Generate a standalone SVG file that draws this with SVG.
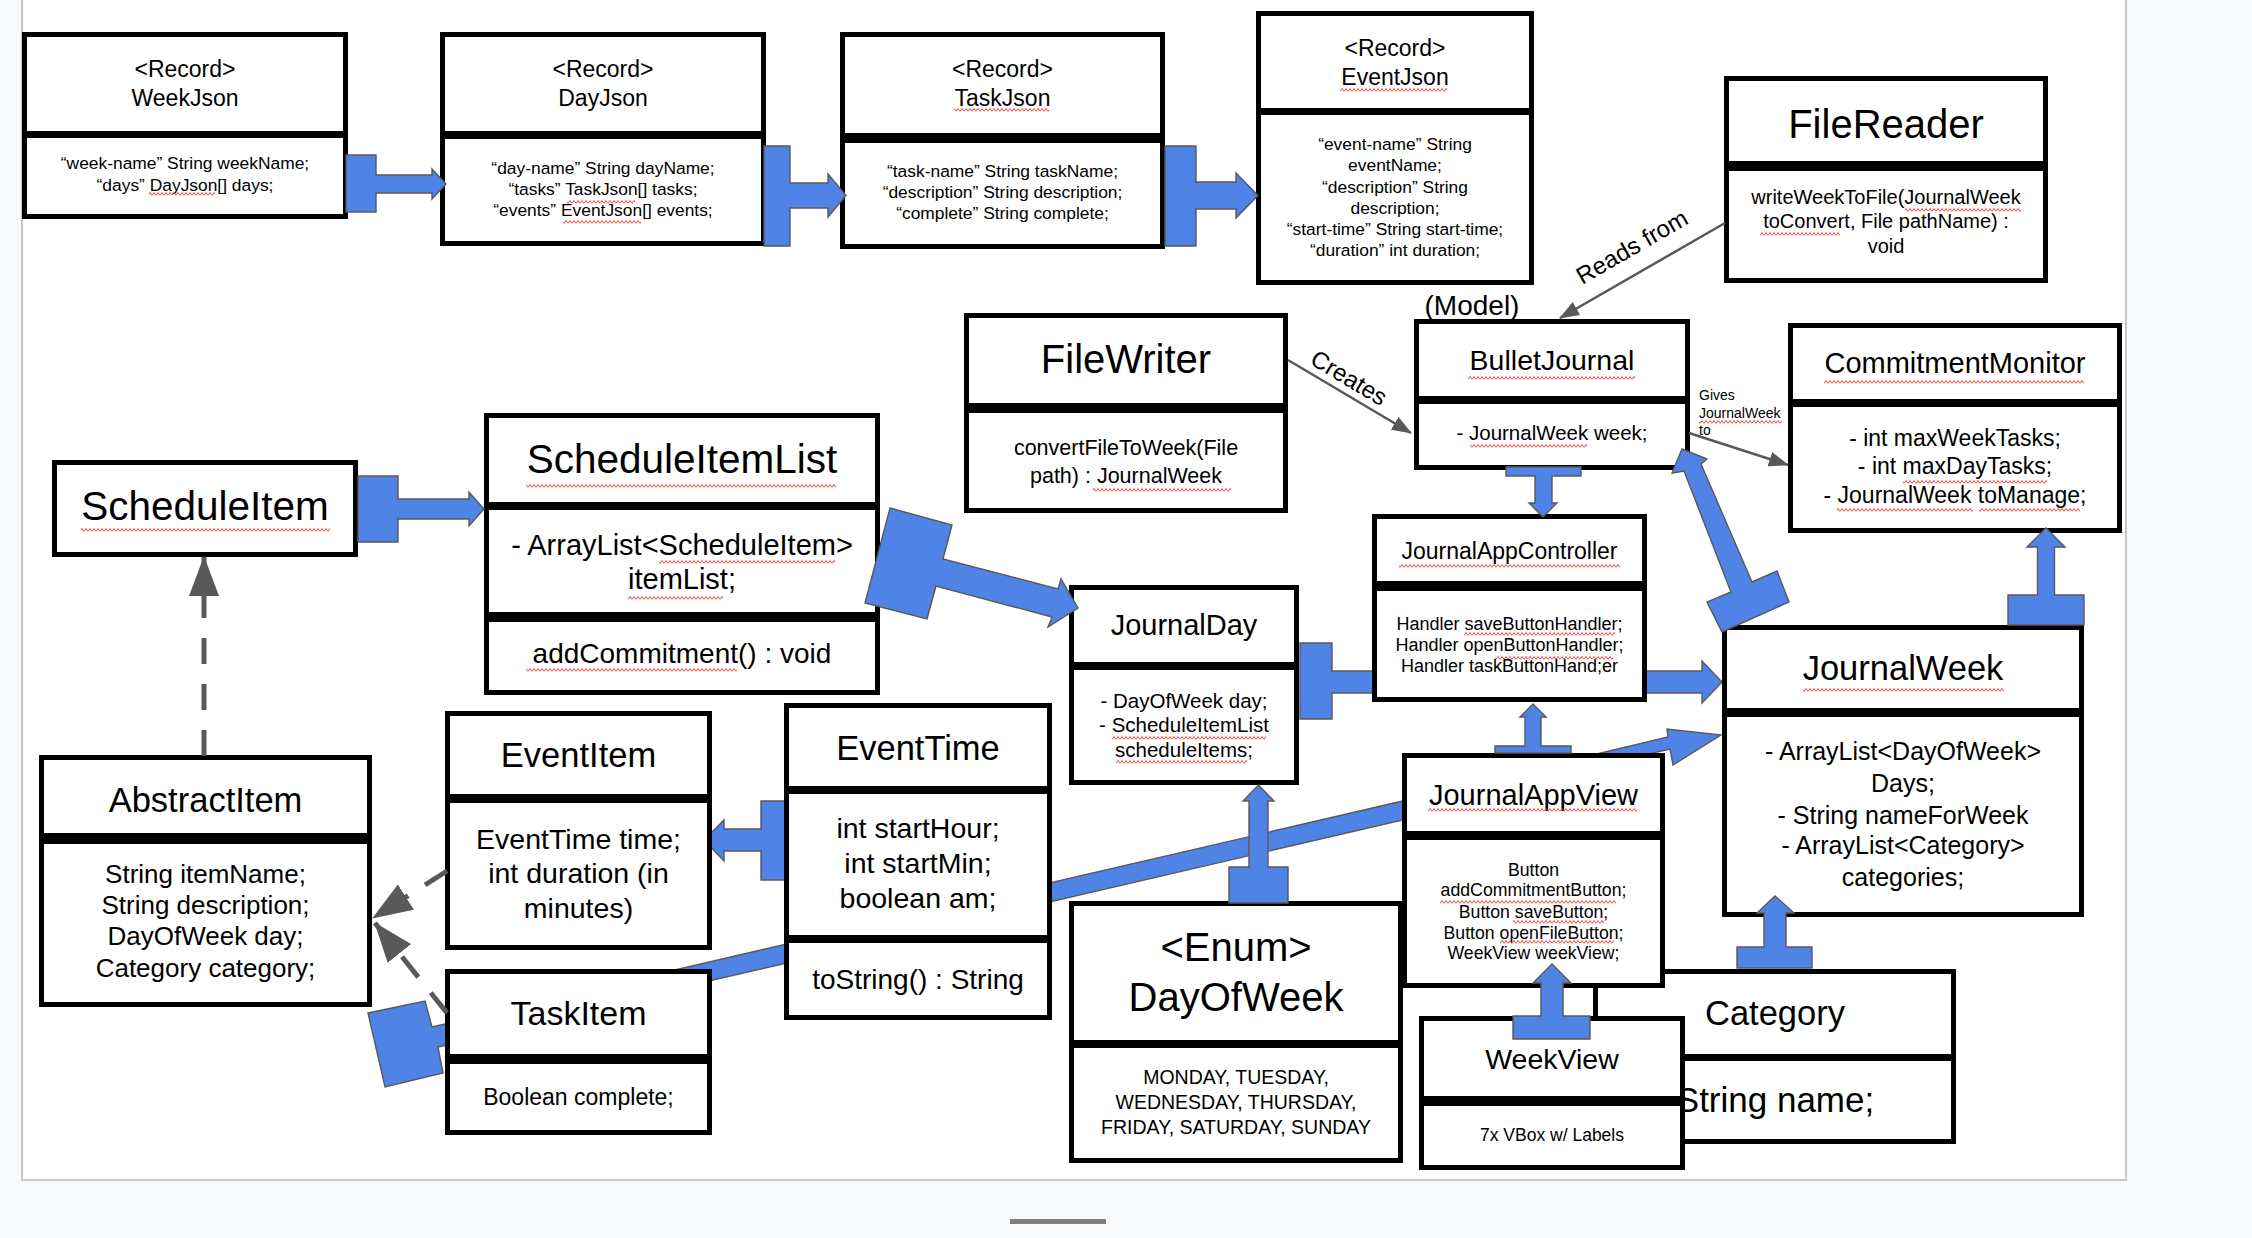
<svg xmlns="http://www.w3.org/2000/svg" width="2252" height="1238" viewBox="0 0 2252 1238">
<defs>
<style>
.bx{fill:#fff;stroke:#000;stroke-width:5}
.dv{fill:#000}
.t{font-family:"Liberation Sans",Arial,Helvetica,sans-serif;fill:#000;text-anchor:middle}
.tl{font-family:"Liberation Sans",Arial,Helvetica,sans-serif;fill:#000}
.ba{fill:#4f83e6;stroke:#595959;stroke-width:1.4}
.dash{fill:none;stroke:#595959;stroke-width:5;stroke-dasharray:26 20;marker-end:url(#mDash)}
.gl{fill:none;stroke:#595959;stroke-width:2.5;marker-end:url(#mLine)}
.sq{fill:url(#sq)}
</style>
<pattern id="sq" width="4" height="4" patternUnits="userSpaceOnUse">
<path d="M0,3.5 L2,0.5 L4,3.5" fill="none" stroke="#e3302c" stroke-width="0.9"/>
</pattern>
<marker id="mDash" markerUnits="userSpaceOnUse" markerWidth="40" markerHeight="30" refX="39" refY="15" orient="auto" viewBox="0 0 40 30">
<path d="M0,0 L40,15 L0,30 z" fill="#595959"/>
</marker>
<marker id="mLine" markerUnits="userSpaceOnUse" markerWidth="20" markerHeight="15" refX="19" refY="7.5" orient="auto" viewBox="0 0 20 15">
<path d="M0,0 L20,7.5 L0,15 z" fill="#595959"/>
</marker>
</defs>

<rect x="0" y="0" width="2252" height="1238" fill="#f8f9fa"/>
<rect x="22" y="-10" width="2104" height="1190" fill="#fff" stroke="#c8c8c8" stroke-width="2"/>
<rect x="1010" y="1219" width="96" height="5" fill="#7f7f7f"/>

<g id="connectors-back">
<polygon class="ba" points="650,975.7 1405,800.5 1405,819.5 650,994.7"/>
<polygon class="ba" points="1300,643 1332,643 1332,671 1702,671 1702,661 1722,682 1702,703 1702,693 1332,693 1332,719 1300,719"/>
<polygon class="ba" points="1580,758 1668,737 1667,729 1721,735 1673,765 1670,749 1580,770"/>
<polygon class="ba" points="787,801 761,801 761,829 724,829 724,820 704,840 724,861 724,851 761,851 761,880 787,880"/>
<polygon class="ba" points="368,1013 425,1001 432,1027 471,1018 476,1039 438,1047 443,1073 385,1087"/>
</g>

<g id="WeekJson">
<rect class="bx" x="24.5" y="34.5" width="321" height="182"/>
<rect class="dv" x="22" y="131" width="326" height="7"/>
<text class="t" x="185" y="77" font-size="23">&lt;Record&gt;</text>
<text class="t" x="185" y="106" font-size="23">WeekJson</text>
<text class="t" x="185" y="169" font-size="17.4">“week-name” String weekName;</text>
<text class="t" x="185" y="191" font-size="17.4">“days” DayJson[] days;</text>
<rect class="sq" x="149" y="192" width="66" height="4"/>
</g>

<g id="DayJson">
<rect class="bx" x="442.5" y="34.5" width="321" height="209"/>
<rect class="dv" x="440" y="131" width="326" height="8"/>
<text class="t" x="603" y="77" font-size="23">&lt;Record&gt;</text>
<text class="t" x="603" y="106" font-size="23">DayJson</text>
<text class="t" x="603" y="174" font-size="17.4">“day-name” String dayName;</text>
<text class="t" x="603" y="195" font-size="17.4">“tasks” TaskJson[] tasks;</text>
<text class="t" x="603" y="216" font-size="17.4">“events” EventJson[] events;</text>
<rect class="sq" x="567" y="200" width="68" height="4"/>
<rect class="sq" x="563" y="220" width="78" height="4"/>
</g>

<g id="TaskJson">
<rect class="bx" x="842.5" y="34.5" width="320" height="212"/>
<rect class="dv" x="840" y="133" width="325" height="10"/>
<text class="t" x="1002.5" y="77" font-size="23">&lt;Record&gt;</text>
<text class="t" x="1002.5" y="106" font-size="23">TaskJson</text>
<rect class="sq" x="954" y="108" width="95" height="4"/>
<text class="t" x="1002.5" y="177" font-size="17.4">“task-name” String taskName;</text>
<text class="t" x="1002.5" y="198" font-size="17.4">“description” String description;</text>
<text class="t" x="1002.5" y="219" font-size="17.4">“complete” String complete;</text>
</g>

<g id="EventJson">
<rect class="bx" x="1258.5" y="13.5" width="273" height="269"/>
<rect class="dv" x="1256" y="108" width="278" height="7"/>
<text class="t" x="1395" y="56" font-size="23">&lt;Record&gt;</text>
<text class="t" x="1395" y="85" font-size="23">EventJson</text>
<rect class="sq" x="1340" y="88" width="107" height="4"/>
<text class="t" x="1395" y="150" font-size="17.4">“event-name” String</text>
<text class="t" x="1395" y="171" font-size="17.4">eventName;</text>
<text class="t" x="1395" y="193" font-size="17.4">“description” String</text>
<text class="t" x="1395" y="214" font-size="17.4">description;</text>
<text class="t" x="1395" y="235" font-size="17.4">“start-time” String start-time;</text>
<text class="t" x="1395" y="256" font-size="17.4">“duration” int duration;</text>
</g>

<g id="FileReader">
<rect class="bx" x="1726.5" y="78.5" width="319" height="202"/>
<rect class="dv" x="1724" y="161" width="324" height="10"/>
<text class="t" x="1886" y="138" font-size="40">FileReader</text>
<text class="t" x="1886" y="204" font-size="20">writeWeekToFile(JournalWeek</text>
<text class="t" x="1886" y="228" font-size="20">toConvert, File pathName) :</text>
<text class="t" x="1886" y="253" font-size="20">void</text>
<rect class="sq" x="1905" y="208" width="116" height="4"/>
<rect class="sq" x="1760" y="232" width="80" height="4"/>
</g>

<g id="FileWriter">
<rect class="bx" x="966.5" y="315.5" width="319" height="195"/>
<rect class="dv" x="964" y="403" width="324" height="10"/>
<text class="t" x="1126" y="373" font-size="40">FileWriter</text>
<text class="t" x="1126" y="455" font-size="21.5">convertFileToWeek(File</text>
<text class="t" x="1126" y="483" font-size="21.5">path) : JournalWeek</text>
<rect class="sq" x="1093" y="488" width="138" height="4"/>
</g>

<g id="BulletJournal">
<rect class="bx" x="1416.5" y="321.5" width="271" height="146"/>
<rect class="dv" x="1414" y="396" width="276" height="8"/>
<text class="t" x="1472" y="315" font-size="28">(Model)</text>
<text class="t" x="1552" y="370" font-size="28.5">BulletJournal</text>
<rect class="sq" x="1468" y="376" width="167" height="4"/>
<text class="t" x="1552" y="440" font-size="20.5">- JournalWeek week;</text>
<rect class="sq" x="1470" y="444" width="117" height="4"/>
</g>

<g id="CommitmentMonitor">
<rect class="bx" x="1790.5" y="325.5" width="329" height="205"/>
<rect class="dv" x="1788" y="399" width="334" height="8"/>
<text class="t" x="1955" y="373" font-size="29">CommitmentMonitor</text>
<rect class="sq" x="1824" y="380" width="260" height="4"/>
<text class="t" x="1955" y="446" font-size="23">- int maxWeekTasks;</text>
<text class="t" x="1955" y="474" font-size="23">- int maxDayTasks;</text>
<text class="t" x="1955" y="503" font-size="23">- JournalWeek toManage;</text>
<rect class="sq" x="1903" y="480" width="144" height="4"/>
<rect class="sq" x="1837" y="508" width="136" height="4"/>
<rect class="sq" x="1979" y="508" width="101" height="4"/>
</g>

<g id="ScheduleItem">
<rect class="bx" x="54.5" y="462.5" width="301" height="92"/>
<text class="t" x="205" y="520" font-size="40.5">ScheduleItem</text>
<rect class="sq" x="81" y="528" width="249" height="4"/>
</g>

<g id="ScheduleItemList">
<rect class="bx" x="486.5" y="415.5" width="391" height="277"/>
<rect class="dv" x="484" y="502" width="396" height="8"/>
<rect class="dv" x="484" y="612" width="396" height="10"/>
<text class="t" x="682" y="473" font-size="40.5">ScheduleItemList</text>
<rect class="sq" x="526" y="484" width="310" height="4"/>
<text class="t" x="682" y="555" font-size="29">- ArrayList&lt;ScheduleItem&gt;</text>
<text class="t" x="682" y="589" font-size="29">itemList;</text>
<rect class="sq" x="659" y="560" width="176" height="4"/>
<rect class="sq" x="628" y="596" width="95" height="4"/>
<text class="t" x="682" y="663" font-size="28">addCommitment() : void</text>
<rect class="sq" x="526" y="668" width="211" height="4"/>
</g>

<g id="JournalDay">
<rect class="bx" x="1071.5" y="587.5" width="225" height="195"/>
<rect class="dv" x="1069" y="662" width="230" height="8"/>
<text class="t" x="1184" y="635" font-size="29">JournalDay</text>
<text class="t" x="1184" y="708" font-size="20.5">- DayOfWeek day;</text>
<text class="t" x="1184" y="732" font-size="20.5">- ScheduleItemList</text>
<text class="t" x="1184" y="757" font-size="20.5">scheduleItems;</text>
<rect class="sq" x="1112" y="736" width="154" height="4"/>
<rect class="sq" x="1116" y="760" width="131" height="4"/>
</g>

<g id="JournalAppController">
<rect class="bx" x="1374.5" y="516.5" width="270" height="183"/>
<rect class="dv" x="1372" y="581" width="275" height="10"/>
<text class="t" x="1509.5" y="559" font-size="23">JournalAppController</text>
<rect class="sq" x="1399" y="564" width="221" height="4"/>
<text class="t" x="1509.5" y="630" font-size="18">Handler saveButtonHandler;</text>
<text class="t" x="1509.5" y="651" font-size="18">Handler openButtonHandler;</text>
<text class="t" x="1509.5" y="672" font-size="18">Handler taskButtonHand;er</text>
<rect class="sq" x="1464" y="632" width="151" height="4"/>
<rect class="sq" x="1495" y="656" width="118" height="4"/>
</g>

<g id="JournalWeek">
<rect class="bx" x="1724.5" y="627.5" width="357" height="287"/>
<rect class="dv" x="1722" y="708" width="362" height="9"/>
<text class="t" x="1903" y="680" font-size="34.5">JournalWeek</text>
<rect class="sq" x="1803" y="688" width="201" height="4"/>
<text class="t" x="1903" y="760" font-size="25">- ArrayList&lt;DayOfWeek&gt;</text>
<text class="t" x="1903" y="792" font-size="25">Days;</text>
<text class="t" x="1903" y="824" font-size="25">- String nameForWeek</text>
<text class="t" x="1903" y="854" font-size="25">- ArrayList&lt;Category&gt;</text>
<text class="t" x="1903" y="886" font-size="25">categories;</text>
</g>

<g id="AbstractItem">
<rect class="bx" x="41.5" y="757.5" width="328" height="247"/>
<rect class="dv" x="39" y="833" width="333" height="11"/>
<text class="t" x="205.5" y="812" font-size="34.5">AbstractItem</text>
<text class="t" x="205.5" y="883" font-size="26">String itemName;</text>
<text class="t" x="205.5" y="914" font-size="26">String description;</text>
<text class="t" x="205.5" y="945" font-size="26">DayOfWeek day;</text>
<text class="t" x="205.5" y="977" font-size="26">Category category;</text>
</g>

<g id="EventItem">
<rect class="bx" x="447.5" y="713.5" width="262" height="234"/>
<rect class="dv" x="445" y="794" width="267" height="9"/>
<text class="t" x="578.5" y="767" font-size="34.5">EventItem</text>
<text class="t" x="578.5" y="849" font-size="28.5">EventTime time;</text>
<text class="t" x="578.5" y="883" font-size="28.5">int duration (in</text>
<text class="t" x="578.5" y="918" font-size="28.5">minutes)</text>
</g>

<g id="EventTime">
<rect class="bx" x="786.5" y="705.5" width="263" height="312"/>
<rect class="dv" x="784" y="786" width="268" height="8"/>
<rect class="dv" x="784" y="935" width="268" height="8"/>
<text class="t" x="918" y="760" font-size="34.5">EventTime</text>
<text class="t" x="918" y="838" font-size="28.5">int startHour;</text>
<text class="t" x="918" y="873" font-size="28.5">int startMin;</text>
<text class="t" x="918" y="908" font-size="28.5">boolean am;</text>
<text class="t" x="918" y="989" font-size="28">toString() : String</text>
</g>

<g id="TaskItem">
<rect class="bx" x="447.5" y="971.5" width="262" height="161"/>
<rect class="dv" x="445" y="1054" width="267" height="10"/>
<text class="t" x="578.5" y="1025" font-size="34">TaskItem</text>
<text class="t" x="578.5" y="1105" font-size="23">Boolean complete;</text>
</g>

<g id="DayOfWeek">
<rect class="bx" x="1071.5" y="903.5" width="329" height="257"/>
<rect class="dv" x="1069" y="1040" width="334" height="8"/>
<text class="t" x="1236" y="961" font-size="40">&lt;Enum&gt;</text>
<text class="t" x="1236" y="1011" font-size="40">DayOfWeek</text>
<text class="t" x="1236" y="1084" font-size="19.5">MONDAY, TUESDAY,</text>
<text class="t" x="1236" y="1109" font-size="19.5">WEDNESDAY, THURSDAY,</text>
<text class="t" x="1236" y="1134" font-size="19.5">FRIDAY, SATURDAY, SUNDAY</text>
</g>

<g id="Category">
<rect class="bx" x="1595.5" y="971.5" width="358" height="170"/>
<rect class="dv" x="1593" y="1054" width="363" height="7"/>
<text class="t" x="1775" y="1025" font-size="34.5">Category</text>
<text class="t" x="1775" y="1112" font-size="35">String name;</text>
</g>

<g id="JournalAppView">
<rect class="bx" x="1404.5" y="755.5" width="258" height="230"/>
<rect class="dv" x="1402" y="831" width="263" height="9"/>
<text class="t" x="1533.5" y="805" font-size="29">JournalAppView</text>
<rect class="sq" x="1428" y="808" width="209" height="4"/>
<text class="t" x="1533.5" y="876" font-size="17.7">Button</text>
<text class="t" x="1533.5" y="896" font-size="17.7">addCommitmentButton;</text>
<text class="t" x="1533.5" y="918" font-size="17.7">Button saveButton;</text>
<text class="t" x="1533.5" y="939" font-size="17.7">Button openFileButton;</text>
<text class="t" x="1533.5" y="959" font-size="17.7">WeekView weekView;</text>
<rect class="sq" x="1440" y="900" width="176" height="4"/>
<rect class="sq" x="1513" y="920" width="91" height="4"/>
<rect class="sq" x="1500" y="940" width="114" height="4"/>
</g>

<g id="WeekView">
<rect class="bx" x="1421.5" y="1018.5" width="261" height="149"/>
<rect class="dv" x="1419" y="1096" width="266" height="10"/>
<text class="t" x="1552" y="1069" font-size="28.5">WeekView</text>
<text class="t" x="1552" y="1141" font-size="17.5">7x VBox w/ Labels</text>
</g>

<g id="connectors">
<polygon class="ba" points="346,155 376,155 376,175 432,175 432,169 446,184 432,199 432,193 376,193 376,212 346,212"/>
<polygon class="ba" points="764,146 790,146 790,183 828,183 828,174 846,195.5 828,217 828,208 790,208 790,246 764,246"/>
<polygon class="ba" points="1165,146 1196,146 1196,182 1236,182 1236,173 1258,195.5 1236,218 1236,209 1196,209 1196,246 1165,246"/>
<polygon class="ba" points="358,476 398,476 398,499 469,499 469,492 484,509 469,526 469,519 398,519 398,542 358,542"/>
<polygon class="ba" points="890,508 952,525 943,559 1058,589 1061,579 1078,608 1048,627 1052,617 936,586 927,619 865,603"/>
<polygon class="ba" points="1506,467 1581,467 1581,476 1552,476 1552,503 1557,503 1543,517 1529,503 1535,503 1535,476 1506,476"/>
<polygon class="ba" points="1682,449 1707,459 1701,464 1752,582 1777,571 1789,602 1722,632 1707,602 1731,592 1684,471 1672,473"/>
<polygon class="ba" points="2008,625 2008,595 2037.5,595 2037.5,547 2027,547 2046,528 2065,547 2054.5,547 2054.5,595 2084,595 2084,625"/>
<polygon class="ba" points="1495,753 1495,746 1525,746 1525,717 1520,717 1533,704 1546,717 1541,717 1541,746 1571,746 1571,753"/>
<polygon class="ba" points="1229,903 1229,867 1249,867 1249,801 1243,801 1258.5,785 1274,801 1268,801 1268,867 1288,867 1288,903"/>
<polygon class="ba" points="1737,968 1737,947 1764,947 1764,913 1757,913 1775,896 1794,913 1786,913 1786,947 1812,947 1812,968"/>
<polygon class="ba" points="1513,1039 1513,1016 1541,1016 1541,983 1533,983 1552,964 1571,983 1563,983 1563,1016 1590,1016 1590,1039"/>
<path class="dash" d="M204,756 L204,557"/>
<path class="dash" d="M447,871 L373,918"/>
<path class="dash" d="M447,1013 L375,923"/>
<path class="gl" d="M1725,223 L1560,318"/>
<path class="gl" d="M1288,360 L1411,433"/>
<path class="gl" d="M1689,433 L1788,465"/>
<text class="t" transform="translate(1632,247) rotate(-30)" y="8" font-size="24">Reads from</text>
<text class="t" transform="translate(1349,378) rotate(31)" y="8" font-size="24">Creates</text>
<text class="tl" x="1699" y="400" font-size="14">Gives</text>
<text class="tl" x="1699" y="418" font-size="14">JournalWeek</text>
<text class="tl" x="1699" y="435" font-size="14">to</text>
<rect class="sq" x="1699" y="420" width="83" height="4"/>
</g>
</svg>
